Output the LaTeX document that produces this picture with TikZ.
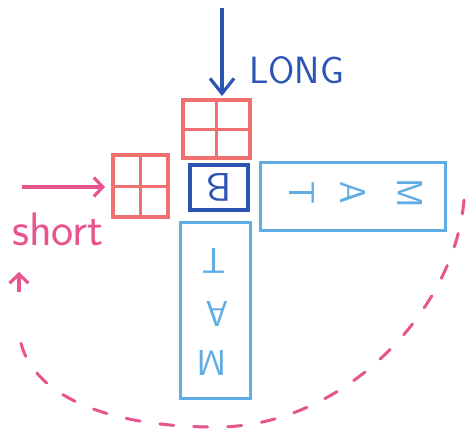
\documentclass[tikz,border=0pt]{standalone}
\usetikzlibrary{arrows.meta}
\definecolor{gridred}{RGB}{240,112,112}
\definecolor{pinkish}{RGB}{232,84,142}
\definecolor{darkblue}{RGB}{44,84,180}
\definecolor{lightblue}{RGB}{96,172,228}
\tikzset{
  gridbox/.style={draw=gridred, line width=3.2pt, inner sep=0pt},
  gridline/.style={draw=gridred, line width=3pt},
  bbox/.style={draw=darkblue, line width=3.2pt, inner sep=0pt},
  lbox/.style={draw=lightblue, line width=3pt, inner sep=0pt},
  lletter/.style={text=lightblue, font=\sffamily\fontsize{36}{40}\selectfont, inner sep=0pt},
  bluearrow/.style={draw=darkblue, line width=3.2pt, -{Straight Barb[length=15pt,width=24pt,line width=3.2pt]}},
  pinkarrow/.style={draw=pinkish, line width=3.2pt, -{Straight Barb[length=9pt,width=19pt,line width=3.2pt]}},
  pinkdash/.style={draw=pinkish, line width=3pt, dash pattern=on 14pt off 20pt, line cap=round}
}
\begin{document}
\begin{tikzpicture}[x=1pt,y=-1pt]
\useasboundingbox (0,0) rectangle (470,434);
\fill[white] (0,0) rectangle (470,434);
% grids
\node[gridbox, minimum width=67pt, minimum height=58pt] (topgrid) at (216.5,129) {};
\draw[gridline] (topgrid.north) -- (topgrid.south);
\draw[gridline] (topgrid.west) -- (topgrid.east);
\node[gridbox, minimum width=55pt, minimum height=62pt] (leftgrid) at (140.5,186) {};
\draw[gridline] (leftgrid.north) -- (leftgrid.south);
\draw[gridline] (leftgrid.west) -- (leftgrid.east);
% B box
\node[bbox, minimum width=58pt, minimum height=45pt] (bbox) at (219,187.5) {};
\node[text=darkblue, font=\sffamily\fontsize{40}{40}\selectfont, rotate=180, inner sep=0pt] (bletter) at (219,187.5) {B};
% right box
\node[lbox, minimum width=185pt, minimum height=68pt] (rbox) at (352.5,196) {};
\node[lletter, rotate=-90] (rt) at (302,193) {T};
\node[lletter, rotate=-90] (ra) at (353,193) {A};
\node[lletter, rotate=-90] (rm) at (410,193) {M};
% bottom box
\node[lbox, minimum width=70pt, minimum height=176pt] (dbox) at (215,310) {};
\node[lletter, rotate=180] (dt) at (214,261) {T};
\node[lletter, rotate=180] (da) at (217,314) {A};
\node[lletter, rotate=180] (dm) at (212,363) {M};
% LONG arrow
\coordinate (ltop) at (222,8);
\coordinate (lend) at (222,96);
\draw[bluearrow] (ltop) -- (lend);
\node[text=darkblue, font=\sffamily\fontsize{38}{40}\selectfont, anchor=west, inner sep=0pt] (long) at (249,70) {LONG};
% short arrow
\coordinate (sstart) at (22,187);
\coordinate (send) at (105,187);
\draw[pinkarrow] (sstart) -- (send);
\node[text=pinkish, font=\sffamily\fontsize{47}{48}\selectfont, anchor=base west, inner sep=0pt] (short) at (12,245) {short};
% dashed loop
\coordinate (cstart) at (464,200);
\coordinate (cbot) at (220,427);
\coordinate (cend) at (19,272);
\draw[pinkdash] (cstart) .. controls (455,310) and (345,425) .. (cbot)
  .. controls (90,428) and (20,385) .. ([yshift=-56pt]cend);
\draw[pinkarrow] ([yshift=-20pt]cend) -- (cend);
\end{tikzpicture}
\end{document}
